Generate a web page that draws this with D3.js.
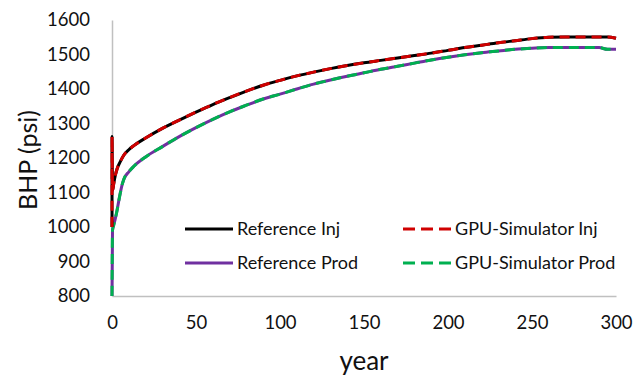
<!DOCTYPE html>
<html>
<head>
<meta charset="utf-8">
<script src="https://cdn.jsdelivr.net/npm/d3@7"></script>
<style>
  html, body { margin: 0; padding: 0; background: #fff; }
  svg { display: block; font-family: Lato, "Open Sans", sans-serif; }
</style>
</head>
<body>
<svg id="chart" width="644" height="379"></svg>
<script>
// Bottom-hole pressure history (psi) for the injector and producer wells
const injYears = [0, 0.02, 0.3, 1, 2, 3, 5, 7, 10, 13, 20, 30, 40, 50, 60, 70, 80, 90, 100, 110, 120, 130, 140, 150, 160, 170, 180, 190, 200, 210, 220, 230, 240, 250, 260, 270, 280, 290, 295, 300];
const injReference = [1000, 1262, 1105, 1125, 1150, 1168, 1190, 1208, 1224, 1236, 1258, 1286, 1310, 1333, 1355, 1375, 1394, 1411, 1425, 1438, 1449, 1459, 1468, 1476, 1483, 1490, 1497, 1504, 1512, 1520, 1527, 1534, 1540, 1546, 1550, 1551, 1551, 1551, 1551, 1547];
const injGpu       = [1000, 1262, 1105, 1125, 1150, 1168, 1190, 1208, 1224, 1236, 1258, 1286, 1310, 1333, 1355, 1375, 1394, 1411, 1425, 1438, 1449, 1459, 1468, 1476, 1483, 1490, 1497, 1504, 1512, 1520, 1527, 1534, 1540, 1546, 1550, 1551, 1551, 1551, 1551, 1547];

const prodYears = [0, 0.3, 1, 2, 3, 4, 5, 6, 7, 10, 13, 20, 30, 40, 50, 60, 70, 80, 90, 100, 110, 120, 130, 140, 150, 160, 170, 180, 190, 200, 210, 220, 230, 240, 250, 260, 270, 280, 290, 295, 300];
const prodReference = [800, 990, 1005, 1025, 1048, 1075, 1100, 1122, 1138, 1160, 1176, 1203, 1233, 1262, 1288, 1312, 1334, 1353, 1371, 1385, 1400, 1414, 1426, 1437, 1447, 1457, 1466, 1475, 1484, 1492, 1499, 1505, 1510, 1515, 1518, 1520, 1520, 1520, 1520, 1515, 1515];
const prodGpu       = [800, 990, 1005, 1025, 1048, 1075, 1100, 1122, 1138, 1160, 1176, 1203, 1233, 1262, 1288, 1312, 1334, 1353, 1371, 1385, 1400, 1414, 1426, 1437, 1447, 1457, 1466, 1475, 1484, 1492, 1499, 1505, 1510, 1515, 1518, 1520, 1520, 1520, 1520, 1515, 1515];

const xTicks = [0, 50, 100, 150, 200, 250, 300];
const yTicks = [800, 900, 1000, 1100, 1200, 1300, 1400, 1500, 1600];

const seriesNames = ["Reference Inj", "GPU-Simulator Inj", "Reference Prod", "GPU-Simulator Prod"];
const seriesColors = ["#000000", "#d00000", "#7030a0", "#00b050"];

const svg = d3.select("#chart");
const plotLeft = 112, plotRight = 616, plotTop = 20, plotBottom = 296;

const x = d3.scaleLinear().domain([0, 300]).range([plotLeft, plotRight]);
const y = d3.scaleLinear().domain([800, 1600]).range([plotBottom, plotTop]);

// Axes: light grey lines, no tick marks, plain integer labels
const xAxis = svg.append("g")
  .attr("transform", `translate(0,${plotBottom})`)
  .call(d3.axisBottom(x).tickValues(xTicks).tickFormat(d3.format("d")).tickSize(0).tickPadding(20));
const yAxis = svg.append("g")
  .attr("transform", `translate(${plotLeft},0)`)
  .call(d3.axisLeft(y).tickValues(yTicks).tickFormat(d3.format("d")).tickSize(0).tickPadding(22));

[xAxis, yAxis].forEach(g => {
  g.select(".domain").attr("stroke", "#c0c0c0").attr("stroke-width", 1.5);
  g.selectAll("text")
    .attr("fill", "#111")
    .style("font-family", "Lato, sans-serif")
    .style("font-size", "18.5px");
});

// Axis titles
svg.append("text")
  .attr("x", 364).attr("y", 370)
  .attr("text-anchor", "middle")
  .style("font-size", "26px")
  .attr("fill", "#111")
  .text("year");

svg.append("text")
  .attr("transform", "translate(37,160) rotate(-90)")
  .attr("text-anchor", "middle")
  .style("font-size", "25px")
  .attr("fill", "#111")
  .text("BHP (psi)");

// Curves
const line = d3.line()
  .x(d => x(d[0]))
  .y(d => y(d[1]))
  .curve(d3.curveMonotoneX);

const zipped = (xs, ys) => xs.map((v, i) => [v, ys[i]]);

const series = [
  { data: zipped(injYears, injReference), dash: null },
  { data: zipped(injYears, injGpu), dash: "10,6" },
  { data: zipped(prodYears, prodReference), dash: null },
  { data: zipped(prodYears, prodGpu), dash: "10,6" }
];

const drawOrder = [2, 3, 0, 1];
drawOrder.forEach(i => {
  const s = series[i];
  svg.append("path")
    .datum(s.data)
    .attr("fill", "none")
    .attr("stroke", seriesColors[i])
    .attr("stroke-width", 3)
    .attr("stroke-dasharray", s.dash)
    .attr("d", line);
});

// Legend
const legendItems = [
  { i: 0, lx: 185, ty: 229 },
  { i: 1, lx: 403, ty: 229 },
  { i: 2, lx: 185, ty: 263 },
  { i: 3, lx: 403, ty: 263 }
];
legendItems.forEach(({ i, lx, ty }) => {
  svg.append("line")
    .attr("x1", lx).attr("x2", lx + 48)
    .attr("y1", ty).attr("y2", ty)
    .attr("stroke", seriesColors[i])
    .attr("stroke-width", 3)
    .attr("stroke-dasharray", series[i].dash ? "12,6" : null);
  svg.append("text")
    .attr("x", lx + 52).attr("y", ty)
    .attr("dy", "0.35em")
    .style("font-size", "18px")
    .attr("fill", "#111")
    .text(seriesNames[i]);
});
</script>
</body>
</html>
